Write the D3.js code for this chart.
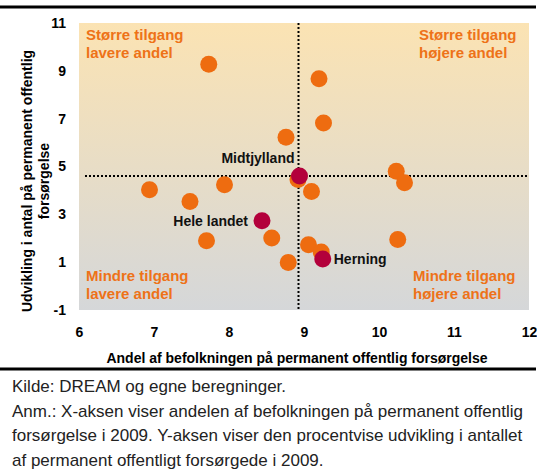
<!DOCTYPE html>
<html lang="da">
<head>
<meta charset="utf-8">
<title>Permanent offentlig forsørgelse</title>
<script src="https://cdn.jsdelivr.net/npm/d3@7"></script>
<style>
  body { margin: 0; background: #fff; }
  svg { display: block; font-family: 'Liberation Sans', Arial, sans-serif; }
</style>
</head>
<body>
<div id="chart"></div>
<script>

/* Data */
/* ==== */

// Kommuner (orange)
var andel     = [7.73, 6.94, 7.48, 7.94, 7.70, 9.20, 9.26, 8.76, 8.92, 9.10, 8.57, 9.06, 9.23, 8.79, 10.23, 10.34, 10.25];
var udvikling = [9.28, 4.03, 3.54, 4.24, 1.90, 8.67, 6.82, 6.22, 4.46, 3.95, 2.01, 1.73, 1.42, 0.99, 4.80, 4.32, 1.95];

// Fremhævede (rød)
var fremNavn  = ['Midtjylland', 'Hele landet', 'Herning'];
var fremAndel = [8.94, 8.44, 9.25];
var fremUdv   = [4.60, 2.73, 1.13];

// Akser
var xTicks = [6, 7, 8, 9, 10, 11, 12];
var yTicks = [-1, 1, 3, 5, 7, 9, 11];

// Kvadranttekster
var kvadrantTekst = [
  ['Større tilgang', 'lavere andel'],
  ['Større tilgang', 'højere andel'],
  ['Mindre tilgang', 'lavere andel'],
  ['Mindre tilgang', 'højere andel']
];

var noter = [
  'Kilde: DREAM og egne beregninger.',
  'Anm.: X-aksen viser andelen af befolkningen på permanent offentlig',
  'forsørgelse i 2009. Y-aksen viser den procentvise udvikling i antallet',
  'af permanent offentligt forsørgede i 2009.'
];

/* Setup */
/* ===== */

var width = 537, height = 475;
var plot = { left: 79, right: 529, top: 23, bottom: 310 };

var svg = d3.select('#chart').append('svg')
    .attr('width', width)
    .attr('height', height);

var x = d3.scaleLinear().domain([6, 12]).range([plot.left, plot.right]);
var y = d3.scaleLinear().domain([-1, 11]).range([plot.bottom, plot.top]);

// Background gradient
var grad = svg.append('defs').append('linearGradient')
    .attr('id', 'bg').attr('x1', 0).attr('y1', 0).attr('x2', 0).attr('y2', 1);
grad.append('stop').attr('offset', '0%').attr('stop-color', '#fbe3b3');
grad.append('stop').attr('offset', '100%').attr('stop-color', '#d5d7d9');

svg.append('rect')
    .attr('x', plot.left).attr('y', plot.top)
    .attr('width', plot.right - plot.left)
    .attr('height', plot.bottom - plot.top)
    .attr('fill', 'url(#bg)');

// Rules above and below the figure
svg.append('rect')
    .attr('x', 0).attr('y', 5.5).attr('width', width - 1).attr('height', 3)
    .attr('fill', '#000');
svg.append('rect')
    .attr('x', 0).attr('y', 367.5).attr('width', width - 1).attr('height', 3)
    .attr('fill', '#000');

/* Quadrant labels */
/* --------------- */

var kvadrantPos = [
  { x: x(6) + 7,    y: 40 },
  { x: x(12) - 110, y: 40 },
  { x: x(6) + 7,    y: 281 },
  { x: x(12) - 116, y: 281 }
];

kvadrantTekst.forEach(function(lines, k) {
  var t = svg.append('text')
      .attr('fill', '#ee7218')
      .attr('font-weight', 'bold')
      .attr('font-size', 15);
  lines.forEach(function(l, i) {
    t.append('tspan')
        .attr('x', kvadrantPos[k].x)
        .attr('y', kvadrantPos[k].y + i * 18)
        .text(l);
  });
});

/* Reference lines */
/* --------------- */

svg.append('line')
    .attr('x1', plot.left + 6).attr('x2', plot.right)
    .attr('y1', y(fremUdv[0])).attr('y2', y(fremUdv[0]))
    .attr('stroke', '#000').attr('stroke-width', 2).attr('stroke-dasharray', '2,2');

svg.append('line')
    .attr('x1', x(fremAndel[0]) - 1).attr('x2', x(fremAndel[0]) - 1)
    .attr('y1', plot.top).attr('y2', plot.bottom)
    .attr('stroke', '#000').attr('stroke-width', 2).attr('stroke-dasharray', '2,2');

/* Axes */
/* ---- */

var xAxis = svg.append('g')
    .attr('transform', 'translate(0,' + (plot.bottom + 14) + ')')
    .call(d3.axisBottom(x).tickValues(xTicks).tickSize(0).tickFormat(d3.format('d')));
xAxis.select('.domain').remove();
xAxis.attr('font-size', 14).attr('font-family', null).attr('font-weight', 'bold');
xAxis.selectAll('text').attr('fill', '#000');

var yAxis = svg.append('g')
    .attr('transform', 'translate(' + (plot.left - 10) + ',0)')
    .call(d3.axisLeft(y).tickValues(yTicks).tickSize(0).tickFormat(d3.format('d')));
yAxis.select('.domain').remove();
yAxis.attr('font-size', 14).attr('font-family', null).attr('font-weight', 'bold');
yAxis.selectAll('text').attr('fill', '#000')
    .text(function(d) { return d < 0 ? '-' + Math.abs(d) : d; });

// Axis titles
svg.append('text')
    .attr('x', 297).attr('y', 363)
    .attr('text-anchor', 'middle')
    .attr('font-size', 14).attr('font-weight', 'bold')
    .text('Andel af befolkningen på permanent offentlig forsørgelse');

var yTitle = svg.append('text')
    .attr('transform', 'translate(0,181) rotate(-90)')
    .attr('text-anchor', 'middle')
    .attr('font-size', 14).attr('font-weight', 'bold');
yTitle.append('tspan').attr('x', 0).attr('y', 32).text('Udvikling i antal på permanent offentlig');
yTitle.append('tspan').attr('x', 0).attr('y', 49).text('forsørgelse');

/* Points */
/* ------ */

svg.append('g').selectAll('circle')
    .data(andel)
  .enter().append('circle')
    .attr('cx', function(d) { return x(d); })
    .attr('cy', function(d, i) { return y(udvikling[i]); })
    .attr('r', 8.5)
    .attr('fill', '#ee6c10');

svg.append('g').selectAll('circle')
    .data(fremAndel)
  .enter().append('circle')
    .attr('cx', function(d) { return x(d); })
    .attr('cy', function(d, i) { return y(fremUdv[i]); })
    .attr('r', 8.5)
    .attr('fill', '#b3003b');

// Point labels
var labelPos = [
  { dx: -5,  dy: -13, anchor: 'end' },
  { dx: -14, dy: 5,   anchor: 'end' },
  { dx: 11,  dy: 5,   anchor: 'start' }
];

svg.append('g').selectAll('text')
    .data(fremNavn)
  .enter().append('text')
    .attr('x', function(d, i) { return x(fremAndel[i]) + labelPos[i].dx; })
    .attr('y', function(d, i) { return y(fremUdv[i]) + labelPos[i].dy; })
    .attr('text-anchor', function(d, i) { return labelPos[i].anchor; })
    .attr('font-size', 14).attr('font-weight', 'bold').attr('fill', '#111')
    .text(function(d) { return d; });

/* Notes */
/* ----- */

svg.append('g').selectAll('text')
    .data(noter)
  .enter().append('text')
    .attr('x', 12)
    .attr('y', function(d, i) { return 392 + i * 24.5; })
    .attr('font-size', 17)
    .attr('fill', '#222')
    .text(function(d) { return d; });

</script>
</body>
</html>
